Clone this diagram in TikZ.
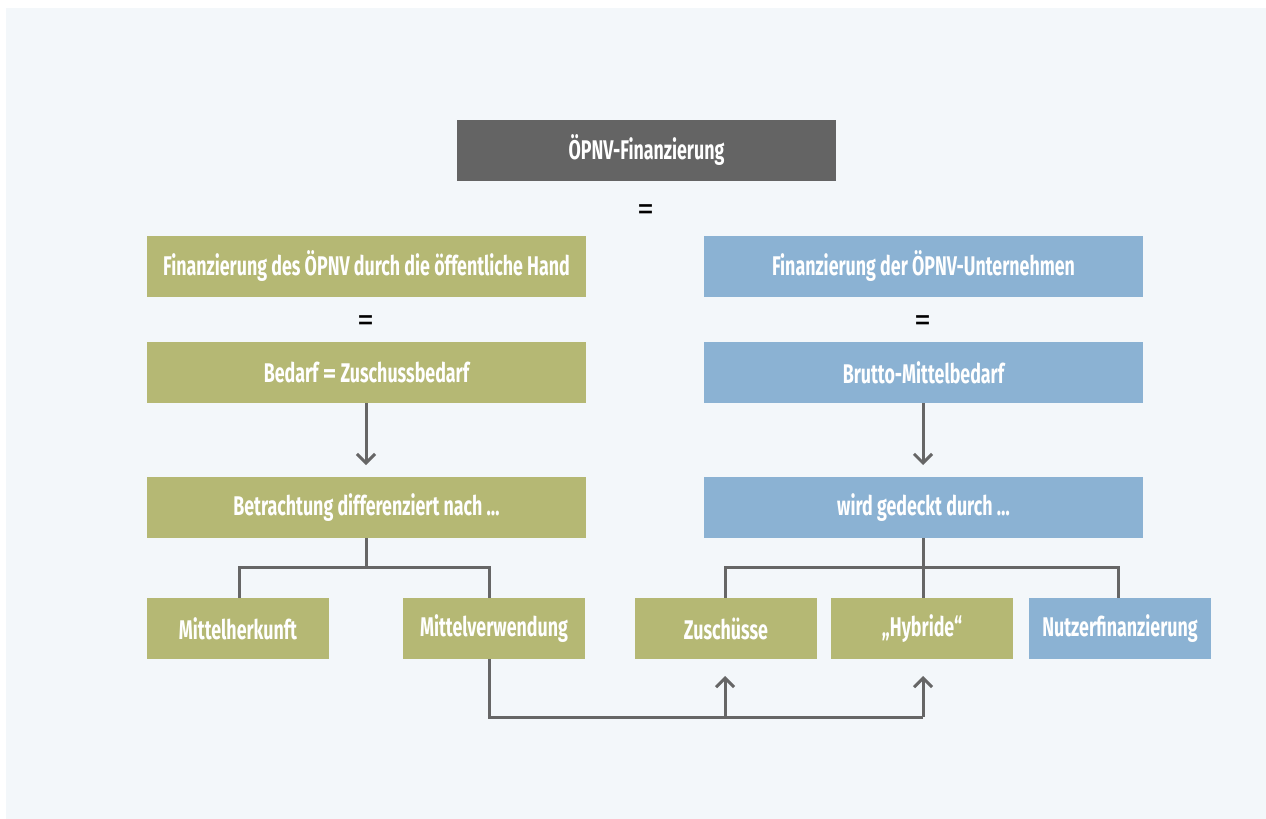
\documentclass[tikz,border=0pt]{standalone}
\usepackage{fontspec}
\setmainfont{Fira Sans}[FakeStretch=0.66]
\newfontfamily\eqfont{Fira Sans}
\usetikzlibrary{arrows.meta}
\definecolor{bgpanel}{HTML}{F3F7FA}
\definecolor{darkbox}{HTML}{646464}
\definecolor{olivebox}{HTML}{B5B874}
\definecolor{bluebox}{HTML}{8BB2D3}
\definecolor{linegrey}{HTML}{666666}
\begin{document}
\begin{tikzpicture}[x=1pt,y=-1pt,
  box/.style={inner sep=0pt, text=white, font=\fontsize{27}{30}\selectfont\bfseries, minimum height=61pt},
  wide/.style={box, minimum width=439pt},
  small/.style={box, minimum width=182pt},
  olive/.style={fill=olivebox},
  blue/.style={fill=bluebox},
  eqsign/.style={inner sep=0pt, text=black, font=\eqfont\fontsize{34}{34}\selectfont},
  conn/.style={draw=linegrey, line width=3pt},
  arr/.style={conn, -{Straight Barb[length=9pt,width=18pt]}}
]
\useasboundingbox (0,0) rectangle (1266,819);
\fill[white] (0,0) rectangle (1266,819);
\fill[bgpanel] (6,8) rectangle (1266,819);

\node[box, fill=darkbox, minimum width=379pt] (top) at (646.5,150.5) {ÖPNV-Finanzierung};
\node[eqsign] (eq0) at (646,213) {=};

\node[wide, olive] (l1) at (366.5,266.5) {Finanzierung des ÖPNV durch die öffentliche Hand};
\node[eqsign] (eql) at (366,324) {=};
\node[wide, olive] (l2) at (366.5,372.5) {Bedarf {\eqfont\fontsize{26}{26}\selectfont=} Zuschussbedarf};
\node[wide, olive] (l3) at (366.5,507.5) {Betrachtung differenziert nach …};

\node[wide, blue] (r1) at (923.5,266.5) {Finanzierung der ÖPNV-Unternehmen};
\node[eqsign] (eqr) at (923,324) {=};
\node[wide, blue] (r2) at (923.5,372.5) {Brutto-Mittelbedarf};
\node[wide, blue] (r3) at (923.5,507.5) {wird gedeckt durch …};

\node[small, olive] (mh) at (238,628.5) {Mittelherkunft};
\node[small, olive] (mv) at (494,628.5) {Mittelverwendung};
\node[small, olive] (zu) at (726,628.5) {Zuschüsse};
\node[small, olive] (hy) at (922,628.5) {„Hybride“};
\node[small, blue] (nf) at (1120,628.5) {Nutzerfinanzierung};

\coordinate (jl) at (366,567);
\coordinate (jr) at (923,567);
\coordinate (bz) at (725,717);
\coordinate (bh) at (923,717);

% arrows between upper boxes
\draw[arr] (l2.south -| 366,0) -- (366,465);
\draw[arr] (r2.south -| 923,0) -- (923,465);

% left tree
\draw[conn] (l3.south -| jl) -- (jl);
\draw[conn] (mh.north -| 239,0) |- (jl) -| (mv.north -| 489,0);

% right tree
\draw[conn] (r3.south -| jr) -- (jr) -- (hy.north -| 923,0);
\draw[conn] (zu.north -| 725,0) |- (jr) -| (nf.north -| 1118,0);

% bottom connector
\draw[conn] (mv.south -| 489,0) |- (bh);
\draw[arr] (bz) -- (725,676);
\draw[arr] (bh) -- (923,676);
\end{tikzpicture}
\end{document}
